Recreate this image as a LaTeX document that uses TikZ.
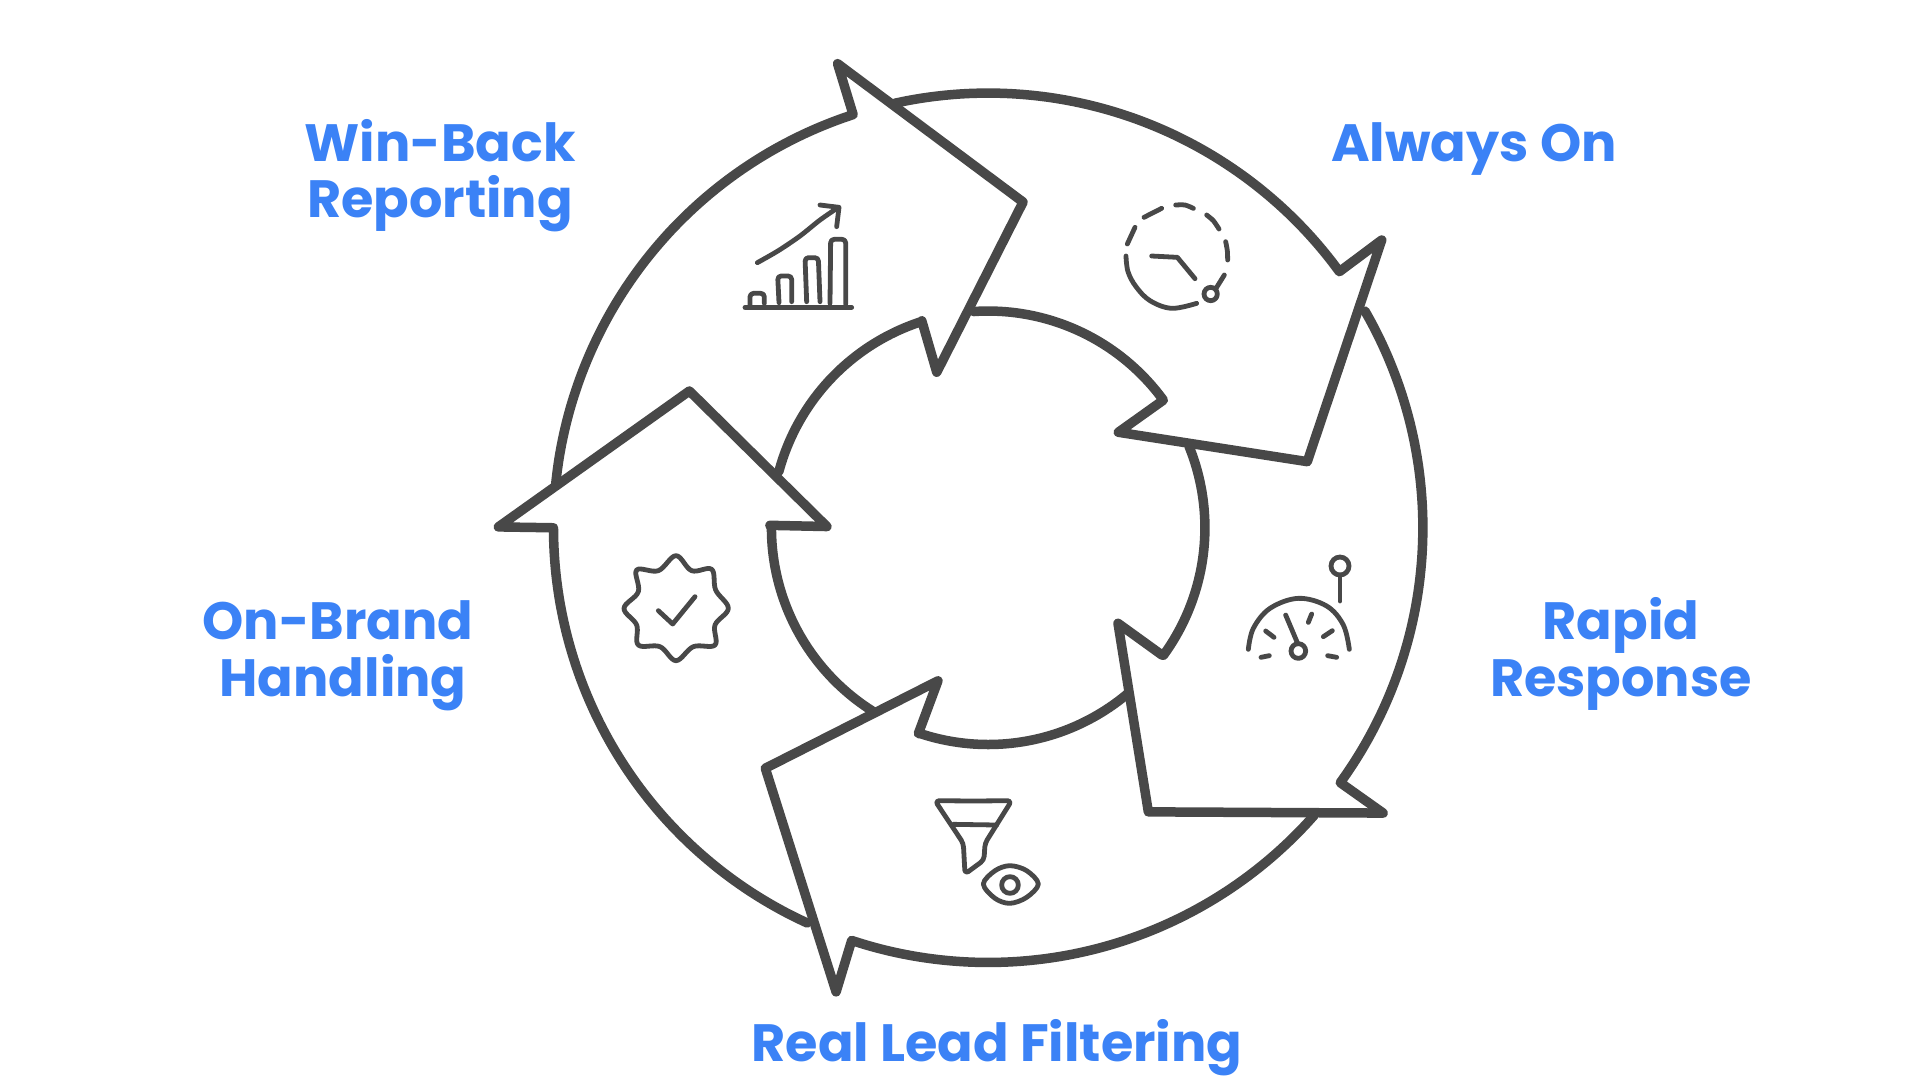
\documentclass[tikz,border=0pt]{standalone}
\usepackage{fontspec}
\setmainfont{Poppins}
\definecolor{ink}{HTML}{484848}
\definecolor{lab}{HTML}{3B82F6}
\def\ox{807+355*cos(\x)}
\def\oy{431-355*sin(\x)}
\def\ix{807+177*cos(\x)}
\def\iy{431-177*sin(\x)}
\newcommand{\lens}[3]{\fill[ink] (#1) to[bend left=#3] (#2) to[bend left=#3] (#1);}
\tikzset{
  ring/.style={draw=ink,line width=9.5pt,line join=round,line cap=round},
  oarc/.style={samples=40,smooth},
  iarc/.style={samples=30,smooth},
  ic/.style={draw=ink,line width=4.8pt,line join=round,line cap=round},
  lbl/.style={text=lab,font=\bfseries\fontsize{52.5}{55}\selectfont,anchor=base,inner sep=0pt}
}
\begin{document}
\begin{tikzpicture}[x=1pt,y=-1pt]
\useasboundingbox (0,0) rectangle (1920,1080);
\fill[white] (0,0) rectangle (1920,1080);
\begin{scope}[scale=1.2245]
\draw[ring] plot[oarc,domain=174.2:108.1] ({\ox},{\oy}) -- (684,52) -- (835.5,165) -- (765,304) -- (752.8,262) -- plot[iarc,domain=108:165] ({\ix},{\iy});
\draw[ring] plot[oarc,domain=102.4:36.1] ({\ox},{\oy}) -- (1128.4,196) -- (1067.6,377) -- (913.3,353) -- (950,326.8) -- plot[iarc,domain=36.5:93.9] ({\ix},{\iy});
\draw[ring] plot[oarc,domain=29.9:-35.9] ({\ox},{\oy}) -- (1129.6,664) -- (937.8,663) -- (913,509) -- (949,535) -- plot[iarc,domain=-36:22] ({\ix},{\iy});
\draw[ring] plot[oarc,domain=-41.4:-108.3] ({\ox},{\oy}) -- (682.8,810) -- (625,627.4) -- (766,556) -- (750,599) -- plot[iarc,domain=-108:-50] ({\ix},{\iy});
\draw[ring] plot[oarc,domain=-114.6:-180] ({\ox},{\oy}) -- (407,430.3) -- (563,319.3) -- (675.3,430) -- (628.8,429) -- plot[iarc,domain=-180:-122] ({\ix},{\iy});
\end{scope}
% hand-drawn swelling of the arrow edges
\lens{920,125}{1023,202}{5}
\lens{1023,202}{968,310}{5}
\lens{1362,300}{1307,462}{5}
\lens{765,768}{814,923}{4.5}
\lens{689,391}{557,485}{5}
\lens{689,391}{780,480}{4.5}
\lens{1148,812}{1383,813}{2.5}
% chart
\begin{scope}[shift={(720,180)},scale=1/3]
\draw[ic] (75,382) -- (395,382);
\draw[ic,rounded corners=3.5pt] (90,378) -- (90,340) -- (133,340) -- (133,370);
\draw[ic,rounded corners=3.5pt] (177,368) -- (173,288) -- (215,288) -- (215,365);
\draw[ic,rounded corners=3.5pt] (260,365) -- (255,233) -- (295,233) -- (300,365);
\draw[ic,rounded corners=3.5pt] (330,370) -- (332,178) -- (377,178) -- (377,372);
\draw[ic] plot[smooth,tension=.5] coordinates {(112,248) (175,212) (240,168) (300,120) (355,82)};
\draw[ic] (300,75) -- (357,82) -- (350,140);
% clock
\draw[ic] (1272,112) -- (1325,85);
\draw[ic] plot[smooth] coordinates {(1367,75) (1395,75) (1420,85)};
\draw[ic] plot[smooth] coordinates {(1460,105) (1480,122) (1497,147)};
\draw[ic] plot[smooth] coordinates {(1517,185) (1522,212) (1523,240)};
\draw[ic] (1513,285) -- (1490,322);
\draw[ic] (1472,342) circle (20);
\draw[ic] plot[smooth,tension=.6] coordinates {(1430,370) (1355,385) (1290,362) (1248,320) (1224,275) (1218,228)};
\draw[ic] (1222,192) -- (1245,142);
\draw[ic] (1295,228) -- (1372,232) -- (1425,296);
\end{scope}
% badge
\begin{scope}[shift={(600,540)},scale=1/3]
\draw[ic] plot[smooth cycle,tension=.6] coordinates {(228,47) (275,92) (335,88) (347,150) (385,205) (345,255) (345,315) (280,320) (228,362) (180,320) (115,315) (110,255) (72,205) (115,155) (110,90) (175,92)};
\draw[ic] (175,212) -- (218,252) -- (285,170);
\end{scope}
% gauge
\begin{scope}[shift={(1220,540)},scale=1/3]
\draw[ic] plot[smooth,tension=.6] coordinates {(85,328) (100,265) (150,205) (235,175) (320,198) (370,255) (388,328)};
\draw[ic] (197,225) -- (232,308);
\draw[ic] (235,333) circle (22);
\draw[ic] (123,352) -- (148,347);
\draw[ic] (137,273) -- (162,292);
\draw[ic] (265,247) -- (275,222);
\draw[ic] (310,290) -- (337,272);
\draw[ic] (323,347) -- (350,352);
\draw[ic] (360,78) circle (27);
\draw[ic] (360,105) -- (360,183);
\end{scope}
% funnel
\begin{scope}[shift={(910,780)},scale=1/3]
\draw[ic,rounded corners=4pt] (190,63) -- (305,62) -- (225,190) -- (222,240) -- (165,282) -- (160,190) -- (75,62) -- (190,63);
\draw[ic] (130,133) -- (260,135);
\draw[ic] plot[smooth cycle,tension=.55] coordinates {(220,312) (255,272) (300,257) (350,272) (385,312) (350,352) (300,370) (255,355)};
\draw[ic] (300,315) circle (25);
\end{scope}
\node[lbl] (a1) at (440,161) {Win-Back};
\node[lbl] (a2) at (440,217) {Reporting};
\node[lbl] (b1) at (1474,161) {Always On};
\node[lbl] (c1) at (1621,639) {Rapid};
\node[lbl] (c2) at (1621,696) {Response};
\node[lbl] (d1) at (338,639) {On-Brand};
\node[lbl] (d2) at (343,696) {Handling};
\node[lbl] (e1) at (997,1061) {Real Lead Filtering};
\end{tikzpicture}
\end{document}
